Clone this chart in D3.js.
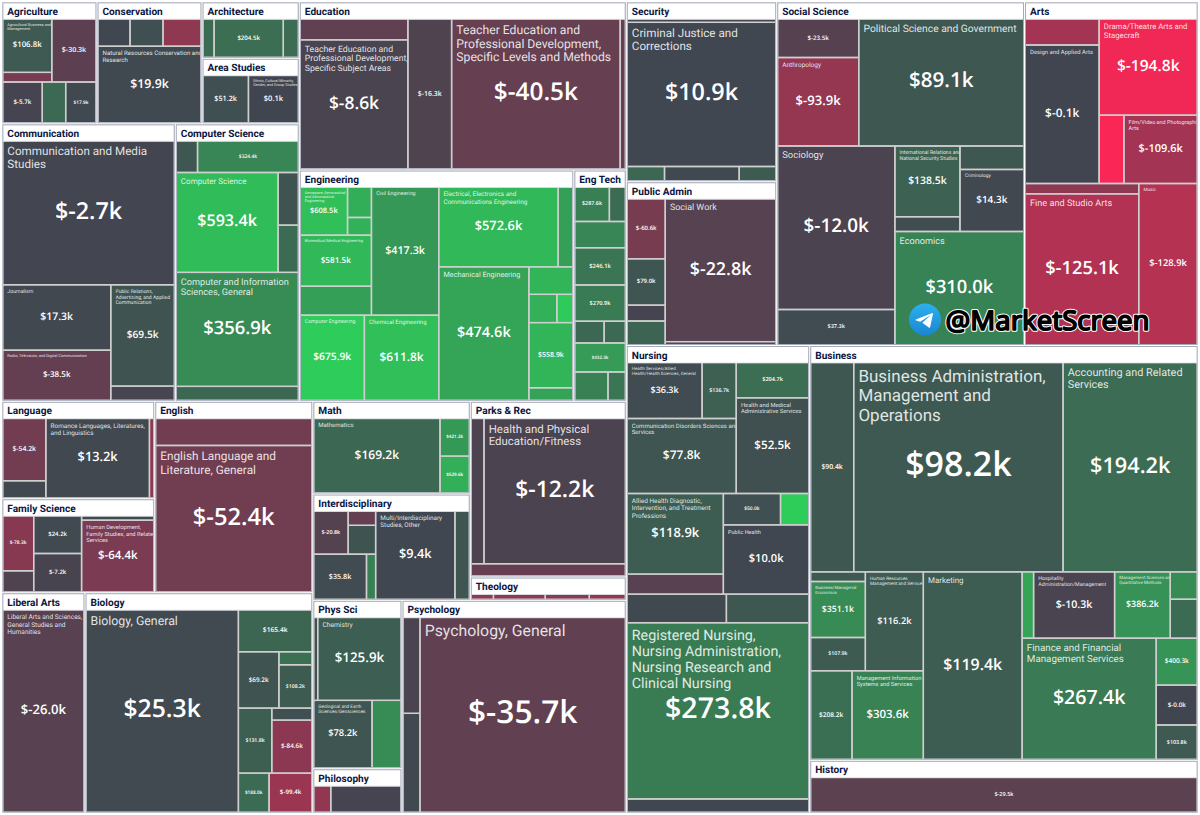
<!DOCTYPE html>
<html><head><meta charset="utf-8">
<script src="https://cdn.jsdelivr.net/npm/d3@7"></script>
<style>
html,body{margin:0;padding:0;background:#fff;overflow:hidden}
text{font-family:"Open Sans","Noto Sans",sans-serif;text-rendering:geometricPrecision}
text.nm,text.hd{font-family:Roboto,"Open Sans",sans-serif}
</style></head><body>
<svg id="chart" width="1200" height="815"></svg>
<script>
// ---- Groups: name, relative size, and how they nest (h = side by side, v = stacked)
const groupNames=['Agriculture','Conservation','Architecture','Area Studies','Communication','Computer Science','Education','Engineering','Eng Tech','Language','Family Science','English','Liberal Arts','Biology','Math','Interdisciplinary','Parks & Rec','Theology','Phys Sci','Philosophy','Psychology','Security','Public Admin','Social Science','Arts','Nursing','Business','History'];
const groupSizes=[11614,12810,5497,6373,48146,34410,55001,63492,12143,14892,14373,30260,18346,50230,14600,16742,27409,3635,15021,3969,47753,27057,24636,85169,59701,85776,161150,20552];
const groupSplit=['h',
 ['v',['h',['v',['h',0,1,['v',2,3]],['h',4,5]],['v',6,['h',7,8]]],
      ['h',['v',['h',['v',9,10],11],['h',12,13]],['v',['h',['v',14,15],['v',16,17]],['h',['v',18,19],20]]]],
 ['v',['h',['v',21,22],23,24],['h',25,['v',26,27]]]];

// ---- Majors in each group. value = $k shown; size = relative cell size; unlabeled = cells with no printed value
const agriNames=['Agricultural Business and|Management','','','','',''];
const agriValues=[106.8,-60,-30.3,-5.7,180,17.9];
const agriSizes=[2555,458,2719,1568,925,1206];
const agriUnlabeled=[1,4];
const agriSplit=['v',['h',['v',0,1],2],['h',3,4,5]];

const consNames=['','','','Natural Resources Conservation and|Research'];
const consValues=[10,50,-85,19.9];
const consSizes=[860,879,1018,7646];
const consUnlabeled=[0,1,2];
const consSplit=['v',['h',0,1,2],3];

const archNames=['','',''];
const archValues=[190,204.5,195];
const archSizes=[11,67.5,14.8];
const archUnlabeled=[0,2];
const archSplit=['h',0,1,2];

const areaNames=['','Ethnic, Cultural Minority,|Gender, and Group Studies'];
const areaValues=[51.2,0.1];
const areaSizes=[44.5,48.8];
const areaUnlabeled=[];
const areaSplit=['h',0,1];

const commNames=['Communication and Media|Studies','Journalism','Radio, Television, and Digital Communication','Public Relations,|Advertising, and Applied|Communication',''];
const commValues=[-2.7,17.3,-38.5,69.5,-8];
const commSizes=[24361,6955,5350,6344,901];
const commUnlabeled=[4];
const commSplit=['v',0,['h',['v',1,2],['v',3,4]]];

const csNames=['','','Computer Science','','','Computer and Information|Sciences, General',''];
const csValues=[95,324.4,593.4,70,190,356.9,170];
const csSizes=[666,3138,9930,1046,940,13596,1680];
const csUnlabeled=[0,3,4,6];
const csSplit=['v',['h',0,1],['h',2,['v',3,4]],5,6];

const eduNames=['','Teacher Education and|Professional Development,|Specific Subject Areas','','Teacher Education and|Professional Development,|Specific Levels and Methods',''];
const eduValues=[-35,-8.6,-16.3,-40.5,-42];
const eduSizes=[2247,13664,6454,24878,788];
const eduUnlabeled=[0,4];
const eduSplit=['h',['v',0,1],2,3,4];

const engNames=['Aerospace, Aeronautical|and Astronautical|Engineering','','','Biomedical/Medical Engineering','','Civil Engineering','Computer Engineering','Chemical Engineering','Electrical, Electronics and|Communications Engineering','','Mechanical Engineering','','','','',''];
const engValues=[608.5,520,540,581.5,450,417.3,675.9,611.8,572.6,450,474.6,560,540,670,558.9,470];
const engSizes=[2256,720,417,3584,2029,8498,5389,6235,9393,1167,11841,1193,776,448,2827,551];
const engUnlabeled=[1,2,4,9,11,12,13,15];
const engSplit=['h',['v',['h',['v',['h',0,['v',1,2]],3,4],5],['h',6,7]],['v',['h',8,9],['h',10,['v',11,['h',12,13],14,15]]]];

const etechNames=['','','','','','','','','',''];
const etechValues=[287.6,190,320,246.1,270.9,170,180,432.3,300,240];
const etechSizes=[1135,526,1256,1787,1739,605,438,1386,897,470];
const etechUnlabeled=[1,2,5,6,8,9];
const etechSplit=['v',['h',0,1],2,3,4,['h',5,6],7,['h',8,9]];

const langNames=['','','Romance Languages, Literatures,|and Linguistics',''];
const langValues=[-54.2,15,13.2,-85];
const langSizes=[2605,713,7949,342];
const langUnlabeled=[1,3];
const langSplit=['h',['v',0,1],2,3];

const famNames=['','','','','','Human Development,|Family Studies, and Related|Services'];
const famValues=[-78.3,-15,24.2,-7.2,20,-64.4];
const famSizes=[1667,635,1764,1783,328,5027];
const famUnlabeled=[1,4];
const famSplit=['h',['v',0,1],['v',2,3],['v',4,5]];

const englNames=['','English Language and|Literature, General'];
const englValues=[-55,-52.4];
const englSizes=[27,144.7];
const englUnlabeled=[0];
const englSplit=['v',0,1];

const libNames=['Liberal Arts and Sciences,|General Studies and|Humanities'];
const libValues=[-26.0];
const libSizes=[1];
const libUnlabeled=[];
const libSplit=['v',0];

const bioNames=['Biology, General','','','','','','','','',''];
const bioValues=[25.3,165.4,69.2,215,108.2,131.8,50,-84.6,188.0,-99.4];
const bioSizes=[30396,3053,2240,425,1406,2135,476,2092,1182,1654];
const bioUnlabeled=[3,6];
const bioSplit=['h',0,['v',1,['h',2,['v',3,4]],['h',5,['v',6,7]],['h',8,9]]];

const mathNames=['Mathematics','',''];
const mathValues=[169.2,421.2,529.6];
const mathSizes=[9074,1073,1044];
const mathUnlabeled=[];
const mathSplit=['h',0,['v',1,2]];

const interNames=['','','','','','Multi/Interdisciplinary|Studies, Other',''];
const interValues=[-20.8,-40,75,35.8,290,9.4,80];
const interSizes=[1452,386,767,2319,401,6809,1248];
const interUnlabeled=[1,2,4,6];
const interSplit=['h',['v',['h',0,['v',1,2]],['h',3,4]],5,6];

const parkNames=['','Health and Physical|Education/Fitness',''];
const parkValues=[-13,-12.2,-40];
const parkSizes=[1825,20017,1870];
const parkUnlabeled=[0,2];
const parkSplit=['v',['h',0,1],2];

const theoNames=['','','',''];
const theoValues=[-90,-85,-80,-90];
const theoSizes=[22,51,43.4,35.6];
const theoUnlabeled=[0,1,2,3];
const theoSplit=['h',0,1,2,3];

const physNames=['','Chemistry','Geological and Earth|Sciences/Geosciences',''];
const physValues=[60,125.9,78.2,350];
const physSizes=[329,6666,3782,1888];
const physUnlabeled=[0,3];
const physSplit=['v',['h',0,1],['h',2,3]];

const philNames=['',''];
const philValues=[-90,-5];
const philSizes=[16.7,68.3];
const philUnlabeled=[0,1];
const philSplit=['h',0,1];

const psyNames=['','','Psychology, General'];
const psyValues=[-10,15,-35.7];
const psySizes=[1625,1673,39440];
const psyUnlabeled=[0,1];
const psySplit=['h',['v',0,1],2];

const secNames=['','Criminal Justice and|Corrections','','',''];
const secValues=[5,10.9,170,20,110];
const secSizes=[540,20878,525,1048,515];
const secUnlabeled=[0,2,3,4];
const secSplit=['v',0,1,['h',2,3,4]];

const pubNames=['','','','','Social Work',''];
const pubValues=[-60.6,79.0,-5,150,-22.8,-25];
const pubSizes=[2222,1705,587,871,15313,326];
const pubUnlabeled=[2,3,5];
const pubSplit=['h',['v',0,1,2,3],['v',4,5]];

const socNames=['','Anthropology','Political Science and Government','Sociology','','International Relations and|National Security Studies','','','Criminology','Economics'];
const socValues=[-23.5,-93.9,89.1,-12.0,37.3,138.5,45,90,14.3,310.0];
const socSizes=[3108,7066,20652,18862,4060,4520,945,1468,3887,14334];
const socUnlabeled=[6,7];
const socSplit=['v',['h',['v',0,1],2],['h',['v',3,4],['v',['h',['v',5,6],['v',7,8]],9]]];

const artsNames=['','Design and Applied Arts','Drama/Theatre Arts and|Stagecraft','','Film/Video and Photographic|Arts','','Fine and Studio Arts','Music'];
const artsValues=[-110,-0.1,-194.8,-205,-109.6,-85,-125.1,-128.9];
const artsSizes=[1909,9997,9283,1659,4916,1149,16740,9249];
const artsUnlabeled=[0,3,5];
const artsSplit=['v',['h',['v',0,1],['v',2,['h',3,4]]],['h',['v',5,6],7]];

const nurNames=['Health Services/Allied|Health/Health Sciences, General','','Communication Disorders Sciences and|Services','','Health and Medical|Administrative Services','Allied Health Diagnostic,|Intervention, and Treatment|Professions','','','','Public Health','','','Registered Nursing,|Nursing Administration,|Nursing Research and|Clinical Nursing',''];
const nurValues=[36.3,136.7,77.8,204.7,52.5,118.9,-25,50.0,680,10.0,20,90,273.8,10];
const nurSizes=[4144,1887,8045,2538,6833,7629,1900,1765,876,5824,2783,2312,31503,2404];
const nurUnlabeled=[6,8,10,11,13];
const nurSplit=['v',['h',['v',['h',0,1],2],['v',3,4]],['h',['v',5,6],['v',['h',7,8],9]],['h',10,11],12,13];

const busNames=['','Business Administration,|Management and|Operations','Accounting and Related|Services','','Business/Managerial|Economics','','Human Resources|Management and Services','','Management Information|Systems and Services','Marketing','','Hospitality|Administration/Management','Management Sciences and|Quantitative Methods','','','Finance and Financial|Management Services','','',''];
const busValues=[90.4,98.2,194.2,100,351.1,107.9,116.2,208.2,303.6,119.4,480,-10.3,386.2,350,190,267.4,400.3,-0.04,103.8];
const busSizes=[8961,43410,27863,524,3041,1802,5672,3647,6269,18343,752,5320,3656,737,1045,16088,1911,1628,1406];
const busUnlabeled=[3,10,13,14];
const busSplit=['v',['h',0,1,2],['h',['v',['h',['v',3,4,5],6],['h',7,8]],9,['v',['h',10,11,12,['v',13,14]],['h',15,['v',16,17,18]]]]];

const histNames=[''];
const histValues=[-29.5];
const histSizes=[1];
const histUnlabeled=[];
const histSplit=['v',0];

// Table the layout needs, in the same order as groupNames
const groupTables=[
 [agriNames,agriValues,agriSizes,agriUnlabeled,agriSplit],[consNames,consValues,consSizes,consUnlabeled,consSplit],
 [archNames,archValues,archSizes,archUnlabeled,archSplit],[areaNames,areaValues,areaSizes,areaUnlabeled,areaSplit],
 [commNames,commValues,commSizes,commUnlabeled,commSplit],[csNames,csValues,csSizes,csUnlabeled,csSplit],
 [eduNames,eduValues,eduSizes,eduUnlabeled,eduSplit],[engNames,engValues,engSizes,engUnlabeled,engSplit],
 [etechNames,etechValues,etechSizes,etechUnlabeled,etechSplit],[langNames,langValues,langSizes,langUnlabeled,langSplit],
 [famNames,famValues,famSizes,famUnlabeled,famSplit],[englNames,englValues,englSizes,englUnlabeled,englSplit],
 [libNames,libValues,libSizes,libUnlabeled,libSplit],[bioNames,bioValues,bioSizes,bioUnlabeled,bioSplit],
 [mathNames,mathValues,mathSizes,mathUnlabeled,mathSplit],[interNames,interValues,interSizes,interUnlabeled,interSplit],
 [parkNames,parkValues,parkSizes,parkUnlabeled,parkSplit],[theoNames,theoValues,theoSizes,theoUnlabeled,theoSplit],
 [physNames,physValues,physSizes,physUnlabeled,physSplit],[philNames,philValues,philSizes,philUnlabeled,philSplit],
 [psyNames,psyValues,psySizes,psyUnlabeled,psySplit],[secNames,secValues,secSizes,secUnlabeled,secSplit],
 [pubNames,pubValues,pubSizes,pubUnlabeled,pubSplit],[socNames,socValues,socSizes,socUnlabeled,socSplit],
 [artsNames,artsValues,artsSizes,artsUnlabeled,artsSplit],[nurNames,nurValues,nurSizes,nurUnlabeled,nurSplit],
 [busNames,busValues,busSizes,busUnlabeled,busSplit],[histNames,histValues,histSizes,histUnlabeled,histSplit]
];

// ---- Scales and layout
const color=d3.scaleLinear().domain([-205,0,680]).range(['rgb(250,38,85)','rgb(65,69,80)','rgb(46,205,90)']);
const money=v=>'$'+(v<0?'-':'')+Math.abs(v).toFixed(1)+'k';
const valueFont=d3.scaleLinear().domain([0,208]).range([0,34]);
const nameFont=d3.scaleLinear().domain([0,208]).range([0,17]);
const tile=(n,x0,y0,x1,y1)=>(n.data.dir==='h'?d3.treemapDice:d3.treemapSlice)(n,x0,y0,x1,y1);
const toTree=(s,leaf)=>Array.isArray(s)?{dir:s[0],children:s.slice(1).map(c=>toTree(c,leaf))}:leaf(s);

const HEADER=16;
const svg=d3.select('#chart');
const defs=svg.append('defs');
const root=d3.treemap().tile(tile).size([1193.4,808.4]).paddingInner(3)(
  d3.hierarchy(toTree(groupSplit,i=>({i,size:groupSizes[i]}))).sum(d=>d.children?0:d.size));

const gGroups=svg.append('g').attr('transform','translate(3.3,3.3)');
root.leaves().forEach(gr=>{
  const i=gr.data.i,[names,values,sizes,blank,split]=groupTables[i];
  const w=gr.x1-gr.x0,h=gr.y1-gr.y0;
  const g=gGroups.append('g').attr('transform',`translate(${gr.x0},${gr.y0})`);
  g.append('rect').attr('width',w).attr('height',h).attr('fill','#cfcfcf');
  const inner=d3.treemap().tile(tile).size([w,h-HEADER]).paddingInner(1.4)(
    d3.hierarchy(toTree(split,j=>({j,size:sizes[j]}))).sum(d=>d.children?0:d.size));
  const body=g.append('g').attr('transform',`translate(0,${HEADER})`);
  inner.leaves().forEach(c=>{
    const j=c.data.j,cw=c.x1-c.x0,ch=c.y1-c.y0,m=Math.min(cw,ch),id=`c${i}_${j}`;
    defs.append('clipPath').attr('id',id).append('rect').attr('width',cw).attr('height',ch);
    const cell=body.append('g').attr('transform',`translate(${c.x0},${c.y0})`).attr('clip-path',`url(#${id})`);
    cell.append('rect').attr('width',cw).attr('height',ch).attr('fill',color(values[j]));
    if(names[j]){
      const fs=nameFont(m);
      const t=cell.append('text').attr('class','nm').attr('font-size',fs).attr('fill','#fff').attr('fill-opacity',0.86);
      names[j].split('|').forEach((ln,k)=>t.append('tspan').attr('x',4).attr('y',2.5+fs*0.98+k*fs*1.13).text(ln));
    }
    if(!blank.includes(j)){
      cell.append('text').attr('x',cw/2).attr('y',ch/2).attr('dy','.25em').attr('text-anchor','middle')
        .attr('font-size',valueFont(m)).attr('font-weight',600).attr('fill','#fff').text(money(values[j]));
    }
  });
  g.append('rect').attr('width',w).attr('height',HEADER).attr('fill','#fff');
  g.append('rect').attr('x',-.5).attr('y',-.5).attr('width',w+1).attr('height',h+1).attr('fill','none').attr('stroke','#a6abb8').attr('stroke-width',1);
  g.append('line').attr('x1',0).attr('x2',w).attr('y1',HEADER).attr('y2',HEADER).attr('stroke','#d6d8de').attr('stroke-width',.8);
  g.append('text').attr('class','hd').attr('x',4).attr('y',11.6).attr('font-size',10.1).attr('font-weight',700).attr('fill','#0b1642').text(groupNames[i]);
});

// ---- Watermark
const gradient=defs.append('linearGradient').attr('id','tg').attr('x1','0').attr('y1','0').attr('x2','0').attr('y2','1');
gradient.append('stop').attr('offset','0').attr('stop-color','#2cb0ee');
gradient.append('stop').attr('offset','1').attr('stop-color','#1a86d0');
const wm=svg.append('g').attr('transform','translate(909,303.5)');
wm.append('circle').attr('cx',16).attr('cy',16).attr('r',16).attr('fill','url(#tg)');
wm.append('path').attr('transform','scale(0.1333)').attr('fill','#fff')
  .attr('d','M100.04 144.41l48.36 35.729c5.519 3.045 9.501 1.468 10.876-5.123l19.685-92.763c2.015-8.08-3.08-11.746-8.36-9.349l-115.59 44.571c-7.89 3.165-7.843 7.567-1.438 9.528l29.663 9.259 68.673-43.325c3.242-1.966 6.218-.91 3.776 1.258');
wm.append('text').attr('x',36.5).attr('y',26.5).attr('font-size',27).attr('textLength',204).attr('lengthAdjust','spacingAndGlyphs')
  .attr('paint-order','stroke').attr('stroke-linejoin','round').style('font-family','"Noto Sans",sans-serif').text('@MarketScreen')
  .attr('fill','#000').attr('stroke','#fff').attr('stroke-width',3.6);
wm.append('text').attr('x',36.5).attr('y',26.5).attr('font-size',27).attr('textLength',204).attr('lengthAdjust','spacingAndGlyphs')
  .attr('stroke-linejoin','round').style('font-family','"Noto Sans",sans-serif').attr('aria-hidden','true').text('@MarketScreen')
  .attr('fill','#000').attr('stroke','#000').attr('stroke-width',1.6);
</script>
</body></html>
